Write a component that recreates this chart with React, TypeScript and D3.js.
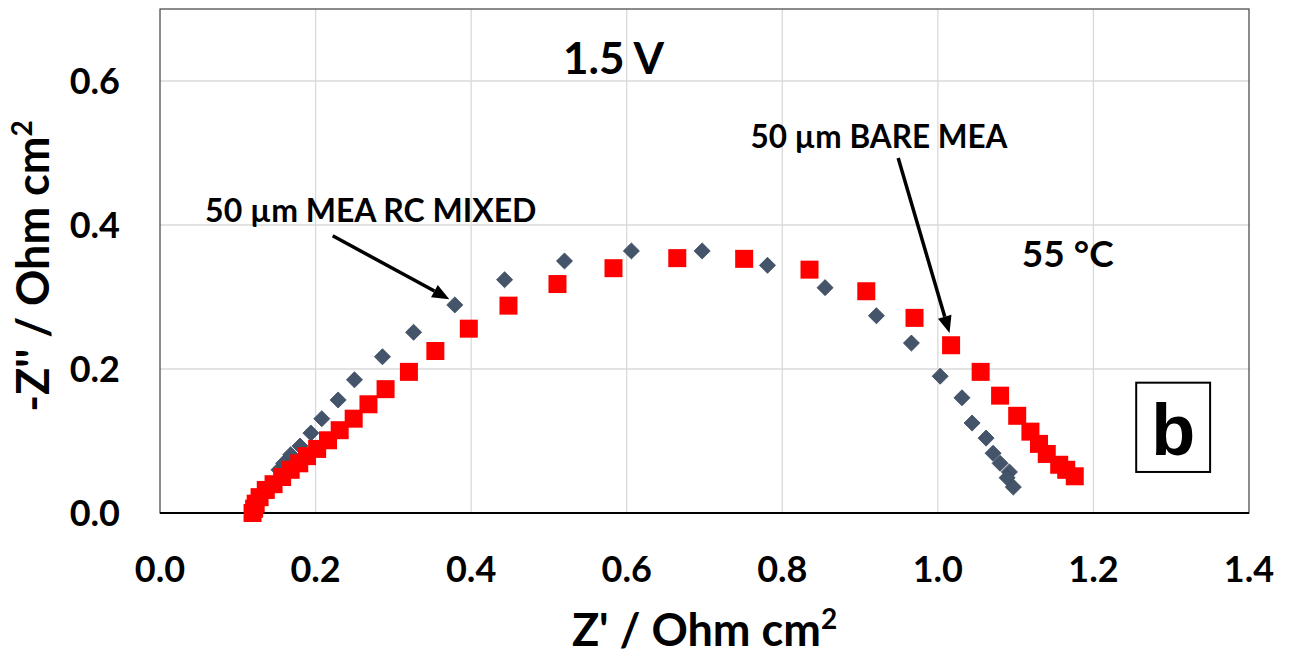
import React from "react";
import * as d3 from "d3";

// Nyquist data: Z' (Ohm cm²) and -Z'' (Ohm cm²)
const rcMixedZre = [0.153, 0.159, 0.168, 0.18, 0.194, 0.208, 0.229, 0.25, 0.286, 0.326, 0.379, 0.443, 0.52, 0.606, 0.697, 0.781, 0.855, 0.921, 0.966, 1.003, 1.031, 1.044, 1.062, 1.071, 1.08, 1.092, 1.089, 1.097];
const rcMixedZim = [0.06, 0.069, 0.081, 0.093, 0.111, 0.131, 0.157, 0.185, 0.217, 0.251, 0.289, 0.324, 0.35, 0.364, 0.364, 0.344, 0.313, 0.274, 0.236, 0.19, 0.16, 0.125, 0.104, 0.083, 0.069, 0.057, 0.049, 0.036];

const bareZre = [0.119, 0.121, 0.123, 0.128, 0.136, 0.146, 0.157, 0.168, 0.179, 0.189, 0.202, 0.216, 0.231, 0.249, 0.268, 0.29, 0.32, 0.354, 0.397, 0.448, 0.511, 0.583, 0.665, 0.751, 0.835, 0.908, 0.97, 1.017, 1.055, 1.08, 1.102, 1.119, 1.13, 1.14, 1.156, 1.165, 1.176];
const bareZim = [0.0, 0.006, 0.013, 0.022, 0.032, 0.04, 0.05, 0.06, 0.069, 0.079, 0.089, 0.101, 0.115, 0.131, 0.151, 0.172, 0.196, 0.225, 0.256, 0.288, 0.318, 0.34, 0.354, 0.353, 0.338, 0.308, 0.271, 0.233, 0.196, 0.163, 0.135, 0.113, 0.096, 0.082, 0.067, 0.06, 0.051];

const xTicks = [0, 0.2, 0.4, 0.6, 0.8, 1.0, 1.2, 1.4];
const yTicks = [0, 0.2, 0.4, 0.6];

const W = 1291;
const H = 659;
const margin = { left: 160, right: 42, top: 9, bottom: 146 };

const FONT = "Lato, 'Open Sans', 'DejaVu Sans', sans-serif";

export default function App() {
  const x = d3.scaleLinear().domain([0, 1.4]).range([margin.left, W - margin.right]);
  const y = d3.scaleLinear().domain([0, 0.7]).range([H - margin.bottom, margin.top]);

  const rcPts = rcMixedZre.map((v, i) => [v, rcMixedZim[i]] as [number, number]);
  const barePts = bareZre.map((v, i) => [v, bareZim[i]] as [number, number]);

  const diamond = d3.symbol().type(d3.symbolDiamond2).size(165)();
  const sq = 18;

  const x0 = x(0), x1 = x(1.4), yTop = y(0.7), yBot = y(0);

  // arrow with a filled head, drawn between two data-space points
  const arrow = (from: [number, number], to: [number, number], key: string) => {
    const [ax, ay] = [x(from[0]), y(from[1])];
    const [bx, by] = [x(to[0]), y(to[1])];
    const ang = Math.atan2(by - ay, bx - ax);
    const len = 17, half = 7;
    const baseX = bx - len * Math.cos(ang), baseY = by - len * Math.sin(ang);
    const px = -Math.sin(ang) * half, py = Math.cos(ang) * half;
    return (
      <g key={key}>
        <line x1={ax} y1={ay} x2={baseX} y2={baseY} stroke="#000" strokeWidth={3.5} />
        <polygon points={`${bx},${by} ${baseX + px},${baseY + py} ${baseX - px},${baseY - py}`} fill="#000" />
      </g>
    );
  };

  return (
    <svg width={W} height={H} style={{ position: "absolute", left: 0, top: 0, background: "#fff" }} fontFamily={FONT} fontWeight="bold">
      <rect x={0} y={0} width={W} height={H} fill="#fff" />
      {/* gridlines */}
      {xTicks.filter((t) => t > 0 && t < 1.4).map((t) => (
        <line key={"gx" + t} x1={x(t)} x2={x(t)} y1={yTop} y2={yBot} stroke="#d9d9d9" strokeWidth={1.3} />
      ))}
      {yTicks.filter((t) => t > 0).map((t) => (
        <line key={"gy" + t} x1={x0} x2={x1} y1={y(t)} y2={y(t)} stroke="#d9d9d9" strokeWidth={1.3} />
      ))}
      {/* plot frame */}
      <rect x={x0} y={yTop} width={x1 - x0} height={yBot - yTop} fill="none" stroke="#404040" strokeWidth={1.2} />
      <line x1={x0} x2={x1} y1={yBot} y2={yBot} stroke="#000" strokeWidth={2} />

      {/* tick labels */}
      {xTicks.map((t) => (
        <text key={"tx" + t} x={x(t)} y={582} textAnchor="middle" fontSize={36}>{d3.format(".1f")(t)}</text>
      ))}
      {yTicks.map((t) => (
        <text key={"ty" + t} x={120} y={y(t)} dy="0.36em" textAnchor="end" fontSize={36}>{d3.format(".1f")(t)}</text>
      ))}

      {/* axis titles */}
      <text x={(x0 + x1) / 2} y={646} textAnchor="middle" fontSize={45}>
        Z' / Ohm cm<tspan dy={-17} fontSize={28}>2</tspan>
      </text>
      <text transform={`translate(49, ${(yTop + yBot) / 2 + 5}) rotate(-90)`} textAnchor="middle" fontSize={45}>
        -Z'' / Ohm cm<tspan dy={-17} fontSize={28}>2</tspan>
      </text>

      {/* series: RC mixed (diamonds) drawn first, bare (squares) on top */}
      {rcPts.map(([a, b], i) => (
        <path key={"d" + i} d={diamond} transform={`translate(${x(a)},${y(b)})`} fill="#44546A" stroke="#3a4759" strokeWidth={0.8} />
      ))}
      {barePts.map(([a, b], i) => (
        <rect key={"s" + i} x={x(a) - sq / 2} y={y(b) - sq / 2} width={sq} height={sq} fill="#ff0000" />
      ))}

      {/* annotations */}
      <text x={x(0.518)} y={y(0.61)} fontSize={44}>1.5 V</text>
      <text x={x(1.108)} y={y(0.342)} fontSize={37}>55 °C</text>
      <text x={x(0.058)} y={y(0.404)} fontSize={32}>50 µm MEA RC MIXED</text>
      <text x={x(0.759)} y={y(0.507)} fontSize={31.5}>50 µm BARE MEA</text>
      {arrow([0.222, 0.385], [0.372, 0.297], "a1")}
      {arrow([0.949, 0.493], [1.015, 0.25], "a2")}

      {/* panel letter */}
      <rect x={x(1.255)} y={y(0.181)} width={x(1.35) - x(1.255)} height={y(0.057) - y(0.181)} fill="#fff" stroke="#000" strokeWidth={2} />
      <text x={(x(1.255) + x(1.35)) / 2} y={455} textAnchor="middle" fontSize={72} fontFamily="'Liberation Sans', Arial, sans-serif">b</text>
    </svg>
  );
}
